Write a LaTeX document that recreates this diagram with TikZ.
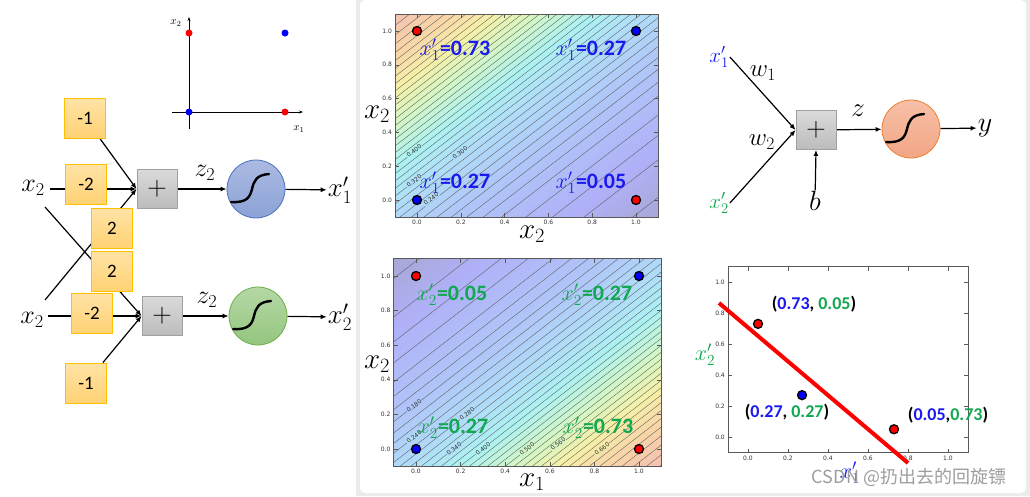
\documentclass[tikz,border=0pt]{standalone}
\usepackage{fix-cm}
\usepackage{fontspec}
\usetikzlibrary{arrows.meta}
\newfontfamily\cali{Carlito}
\newfontfamily\djv{DejaVu Sans}
\newfontfamily\cjk{Noto Sans CJK SC}
\definecolor{cblue}{HTML}{1A1AF0}
\definecolor{cgreen}{HTML}{10A850}
\definecolor{wbord}{HTML}{FFC000}
\definecolor{wtop}{HTML}{FFE3A6}
\definecolor{wbot}{HTML}{FFD274}
\definecolor{pbord}{HTML}{A0A0A0}
\definecolor{ptop}{HTML}{DADADA}
\definecolor{pbot}{HTML}{BCBCBC}
\definecolor{bltop}{HTML}{ABBAE2}
\definecolor{blbot}{HTML}{8CA2D6}
\definecolor{blbord}{HTML}{4A72C0}
\definecolor{grtop}{HTML}{B5D8A6}
\definecolor{grbot}{HTML}{94C67F}
\definecolor{grbord}{HTML}{70AD47}
\definecolor{ortop}{HTML}{F7C0A8}
\definecolor{orbot}{HTML}{F2A684}
\definecolor{orbord}{HTML}{ED7D31}
\definecolor{bggray}{HTML}{EBEBEB}
\definecolor{jA}{HTML}{A8A8D8}
\definecolor{jB}{HTML}{B0B0F8}
\definecolor{jC}{HTML}{B0C6F8}
\definecolor{jD}{HTML}{B0DCF8}
\definecolor{jE}{HTML}{ACF2F2}
\definecolor{jF}{HTML}{D4F6C4}
\definecolor{jG}{HTML}{F6F0A8}
\definecolor{jH}{HTML}{F8D6A8}
\definecolor{jI}{HTML}{F4C2B0}
\pgfdeclareverticalshading{jetmap}{100bp}{color(0bp)=(jA); color(26.7bp)=(jA); color(34.4bp)=(jB); color(45.1bp)=(jC); color(51bp)=(jD); color(55.8bp)=(jE); color(60.7bp)=(jF); color(64.6bp)=(jG); color(68.5bp)=(jH); color(73.3bp)=(jI); color(100bp)=(jI)}
\pgfdeclarelayer{back}
\pgfdeclarelayer{lines}
\pgfsetlayers{back,lines,main}
\tikzset{
  wbox/.style={draw=wbord, line width=0.9pt, top color=wtop, bottom color=wbot, minimum width=41pt, minimum height=40pt, inner sep=0pt, font=\cali\fontsize{19}{19}\selectfont},
  plusbox/.style={draw=pbord, line width=0.9pt, top color=ptop, bottom color=pbot, minimum width=40pt, minimum height=39pt, inner sep=0pt, font=\fontsize{27}{27}\selectfont},
  neuron/.style={circle, minimum size=58pt, inner sep=0pt, line width=0.8pt},
  conn/.style={line width=1.2pt, -{Latex[length=6pt,width=5pt]}},
  mlbl/.style={inner sep=1pt, font=\fontsize{#1}{#1}\selectfont},
  mlbl/.default=25,
  sigline/.style={line width=2.4pt, line cap=round},
  cline/.style={draw=black!65, line width=0.35pt},
  axframe/.style={draw=black!65, line width=0.8pt},
  tickmark/.style={draw=black!65, line width=0.6pt},
  ticklbl/.style={font=\djv\fontsize{6}{6}\selectfont, text=black!80, inner sep=1pt},
  pdot/.style={circle, fill=#1, draw=black, line width=1.3pt, minimum size=9pt, inner sep=0pt},
  sdot/.style={circle, fill=#1, minimum size=7pt, inner sep=0pt},
  clabel/.style={font=\djv\fontsize{6}{6}\selectfont, rotate=37.7, inner sep=0.4pt, fill=#1, text=black!80},
  vallbl/.style={inner sep=0pt, font=\fontsize{22}{22}\selectfont},
  coordlbl/.style={inner sep=0pt, font=\cali\bfseries\fontsize{18}{18}\selectfont},
}
\newcommand\myval[3]{\textcolor{#1}{$x'_{#2}$\cali\bfseries=#3}}
\newcommand\sigcurve[1]{\draw[sigline] ([shift={(-25,13)}]#1.center) .. controls ([shift={(-9,14)}]#1.center) and ([shift={(-6,8)}]#1.center) .. ([shift={(-4,0)}]#1.center) .. controls ([shift={(-2,-8)}]#1.center) and ([shift={(0,-14)}]#1.center) .. ([shift={(13,-15)}]#1.center);}
\begin{document}
\begin{tikzpicture}[x=1pt,y=-1pt]
\useasboundingbox (0,0) rectangle (1030,496);
\begin{pgfonlayer}{back}
  \fill[bggray] (0,0) rectangle (1030,496);
  \fill[white, rounded corners=6pt] (-10,-10) rectangle (356,506);
  \fill[white, rounded corners=5pt] (360,0) rectangle (1026,493);
\end{pgfonlayer}

% ---------------- small scatter (top left)
\coordinate (ya1) at (189,129);
\coordinate (ya2) at (189,17);
\coordinate (xa1) at (172,112);
\coordinate (xa2) at (303,112);
\draw[line width=1pt, -{Stealth[length=4pt,width=3pt]}] (ya1) -- (ya2);
\draw[line width=1pt, -{Stealth[length=4pt,width=3pt]}] (xa1) -- (xa2);
\node[mlbl=11] (sx2) at (176,23) {$x_2$};
\node[mlbl=11] (sx1) at (299,129) {$x_1$};
\node[sdot=red] (sd1) at (189,33) {};
\node[sdot=blue] (sd2) at (285,33) {};
\node[sdot=blue] (sd3) at (189,112) {};
\node[sdot=red] (sd4) at (285,112) {};

% ---------------- left network, row 1
\node[mlbl=26] (x2a) at (33,188) {$x_2$};
\node[wbox] (wm2a) at (86,184) {-2};
\node[wbox] (wm1a) at (85,118) {-1};
\node[wbox] (w2a) at (112,228) {2};
\node[wbox] (w2b) at (112,271) {2};
\node[plusbox] (pa) at (157,189) {$+$};
\node[neuron, draw=blbord, top color=bltop, bottom color=blbot] (ca) at (256,189) {};
\node[mlbl=26] (za) at (205,173) {$z_2$};
\node[mlbl=27] (oa) at (340,190) {$x'_1$};
\sigcurve{ca}
% row 2
\node[mlbl=26] (x2b) at (32,320) {$x_2$};
\node[wbox] (wm2b) at (92,313) {-2};
\node[wbox] (wm1b) at (86,383) {-1};
\node[plusbox] (pb) at (162,316) {$+$};
\node[neuron, draw=grbord, top color=grtop, bottom color=grbot] (cb) at (258,316) {};
\node[mlbl=26] (zb) at (207,300) {$z_2$};
\node[mlbl=27] (ob) at (340,317) {$x'_2$};
\sigcurve{cb}

\coordinate (x2aout) at (50,189);
\coordinate (xadown) at (45,207);
\coordinate (xbup) at (45,300);
\coordinate (x2bout) at (48,316);
\begin{pgfonlayer}{lines}
  \draw[conn] (x2aout) -- (pa.west);
  \draw[conn] (wm1a) -- (pa.west);
  \draw[conn] (xbup) -- (pa.west);
  \draw[conn] (xadown) -- (pb.west);
  \draw[conn] (x2bout) -- (pb.west);
  \draw[conn] (wm1b) -- (pb.west);
  \draw[conn] (pa) -- (ca);
  \draw[conn] (ca) -- (oa);
  \draw[conn] (pb) -- (cb);
  \draw[conn] (cb) -- (ob);
\end{pgfonlayer}

% ---------------- top contour plot
\begin{scope}
  \clip (395.1,14.1) rectangle (657.9,216.9);
  \begin{scope}[transform canvas={shift={(526.5,115.5)},rotate=37.66}]
    \shade[shading=jetmap] (-175,-172) rectangle (175,172);
  \end{scope}
\end{scope}
\begin{scope}[shift={(417,200)}, x=219pt, y=169pt]
  \begin{scope}
    \clip (-0.1,-0.1) rectangle (1.1,1.1);
    \foreach \k in {2,...,40}{
      \pgfmathsetmacro\s{(ln(0.02*\k/(1-0.02*\k))+1)/2}
      \draw[cline] (-0.3,{\s-0.3}) -- (1.3,{\s+1.3});
    }
  \end{scope}
  \draw[axframe] (-0.1,-0.1) rectangle (1.1,1.1);
  \foreach \t in {0,0.2,0.4,0.6,0.8,1}{
    \draw[tickmark] (\t,-0.1) -- ++(0pt,4pt);
    \draw[tickmark] (\t,1.1) -- ++(0pt,-4pt);
    \draw[tickmark] (-0.1,\t) -- ++(4pt,0pt);
    \draw[tickmark] (1.1,\t) -- ++(-4pt,0pt);
  }
  \foreach \t/\l [count=\i] in {0/0.0,0.2/0.2,0.4/0.4,0.6/0.6,0.8/0.8,1/1.0}{
    \node[ticklbl, anchor=north, yshift=-2pt] (atx\i) at (\t,-0.1) {\l};
    \node[ticklbl, anchor=east, xshift=-2pt] (aty\i) at (-0.1,\t) {\l};
  }
\end{scope}
\node[clabel=jE] (acl1) at (414,151) {0.400};
\node[clabel=jD] (acl2) at (460,153) {0.300};
\node[clabel=jD] (acl3) at (414,181) {0.320};
\node[clabel=jD] (acl4) at (431,199) {0.240};
\begin{scope}[shift={(417,200)}, x=219pt, y=169pt]
  \node[pdot=red] (ap1) at (0,1) {};
  \node[pdot=blue] (ap2) at (1,1) {};
  \node[pdot=blue] (ap3) at (0,0) {};
  \node[pdot=red] (ap4) at (1,0) {};
\end{scope}
\node[vallbl] (av1) at (455,50) {\myval{cblue}{1}{0.73}};
\node[vallbl] (av2) at (591,50) {\myval{cblue}{1}{0.27}};
\node[vallbl] (av3) at (455,183) {\myval{cblue}{1}{0.27}};
\node[vallbl] (av4) at (591,183) {\myval{cblue}{1}{0.05}};
\node[mlbl=29] (ayl) at (377,114) {$x_2$};
\node[mlbl=29] (axl) at (532,234) {$x_2$};

% ---------------- bottom contour plot
\begin{scope}
  \clip (393.7,258.7) rectangle (661.3,466.3);
  \begin{scope}[transform canvas={shift={(527.5,362.5)},rotate=217.8}]
    \shade[shading=jetmap] (-175,-172) rectangle (175,172);
  \end{scope}
\end{scope}
\begin{scope}[shift={(416,449)}, x=223pt, y=173pt]
  \begin{scope}
    \clip (-0.1,-0.1) rectangle (1.1,1.1);
    \foreach \k in {2,...,40}{
      \pgfmathsetmacro\s{(ln(0.02*\k/(1-0.02*\k))+1)/2}
      \draw[cline] (-0.3,{-0.3-\s}) -- (1.3,{1.3-\s});
    }
  \end{scope}
  \draw[axframe] (-0.1,-0.1) rectangle (1.1,1.1);
  \foreach \t in {0,0.2,0.4,0.6,0.8,1}{
    \draw[tickmark] (\t,-0.1) -- ++(0pt,4pt);
    \draw[tickmark] (\t,1.1) -- ++(0pt,-4pt);
    \draw[tickmark] (-0.1,\t) -- ++(4pt,0pt);
    \draw[tickmark] (1.1,\t) -- ++(-4pt,0pt);
  }
  \foreach \t/\l [count=\i] in {0/0.0,0.2/0.2,0.4/0.4,0.6/0.6,0.8/0.8,1/1.0}{
    \node[ticklbl, anchor=north, yshift=-2pt] (btx\i) at (\t,-0.1) {\l};
    \node[ticklbl, anchor=east, xshift=-2pt] (bty\i) at (-0.1,\t) {\l};
  }
\end{scope}
\node[clabel=jC] (bcl1) at (414,406) {0.180};
\node[clabel=jD] (bcl2) at (467,414) {0.280};
\node[clabel=jD] (bcl3) at (414,437) {0.240};
\node[clabel=jD] (bcl4) at (454,449) {0.340};
\node[clabel=jE] (bcl5) at (483,449) {0.400};
\node[clabel=jF] (bcl6) at (527,449) {0.500};
\node[clabel=jF] (bcl7) at (558,444) {0.560};
\node[clabel=jG] (bcl8) at (602,449) {0.660};
\begin{scope}[shift={(416,449)}, x=223pt, y=173pt]
  \node[pdot=red] (bp1) at (0,1) {};
  \node[pdot=blue] (bp2) at (1,1) {};
  \node[pdot=blue] (bp3) at (0,0) {};
  \node[pdot=red] (bp4) at (1,0) {};
\end{scope}
\node[vallbl] (bv1) at (452,295) {\myval{cgreen}{2}{0.05}};
\node[vallbl] (bv2) at (597,295) {\myval{cgreen}{2}{0.27}};
\node[vallbl] (bv3) at (453,428) {\myval{cgreen}{2}{0.27}};
\node[vallbl] (bv4) at (598,428) {\myval{cgreen}{2}{0.73}};
\node[mlbl=29] (byl) at (377,364) {$x_2$};
\node[mlbl=29] (bxl) at (532,482) {$x_1$};

% ---------------- right network
\node[mlbl=21, text=cblue] (xp1) at (719,57) {$x'_1$};
\node[mlbl=21, text=cgreen] (xp2) at (719,203) {$x'_2$};
\node[plusbox] (pc) at (816,130) {$+$};
\node[neuron, draw=orbord, top color=ortop, bottom color=orbot] (cc) at (911,129) {};
\sigcurve{cc}
\node[mlbl=25] (w1l) at (763,73) {$w_1$};
\node[mlbl=25] (w2l) at (762,142) {$w_2$};
\node[mlbl=28] (bl) at (815,201) {$b$};
\node[mlbl=27] (zl) at (858,111) {$z$};
\node[mlbl=28] (yl) at (985,128) {$y$};
\begin{pgfonlayer}{lines}
  \draw[conn] (xp1.east) -- (pc.west);
  \draw[conn] (xp2.east) -- (pc.west);
  \draw[conn] (bl) -- (pc.south);
  \draw[conn] (pc) -- (cc);
  \draw[conn] (cc) -- (yl);
\end{pgfonlayer}

% ---------------- scatter of hidden outputs
\begin{scope}[shift={(748,437)}, x=200pt, y=155pt]
  \draw[axframe] (-0.1,-0.1) rectangle (1.1,1.1);
  \foreach \t in {0,0.2,0.4,0.6,0.8,1}{
    \draw[tickmark] (\t,-0.1) -- ++(0pt,4pt);
    \draw[tickmark] (\t,1.1) -- ++(0pt,-4pt);
    \draw[tickmark] (-0.1,\t) -- ++(4pt,0pt);
    \draw[tickmark] (1.1,\t) -- ++(-4pt,0pt);
  }
  \foreach \t/\l [count=\i] in {0/0.0,0.2/0.2,0.4/0.4,0.6/0.6,0.8/0.8,1/1.0}{
    \node[ticklbl, anchor=north, yshift=-2pt] (ctx\i) at (\t,-0.1) {\l};
    \node[ticklbl, anchor=east, xshift=-2pt] (cty\i) at (-0.1,\t) {\l};
  }
  \node[pdot=red] (cp1) at (0.05,0.73) {};
  \node[pdot=blue] (cp2) at (0.27,0.27) {};
  \node[pdot=red] (cp3) at (0.73,0.05) {};
\end{scope}
\coordinate (rl1) at (719,303);
\coordinate (rl2) at (908,463);
\draw[red, line width=4pt] (rl1) -- (rl2);
\node[coordlbl] (cl1) at (814,304) {(\textcolor{cblue}{0.73}, \textcolor{cgreen}{0.05})};
\node[coordlbl] (cl2) at (787,412) {(\textcolor{cblue}{0.27}, \textcolor{cgreen}{0.27})};
\node[coordlbl] (cl3) at (948,415) {(\textcolor{cblue}{0.05},\textcolor{cgreen}{0.73})};
\node[mlbl=22, text=cgreen] (cyl) at (705,355) {$x'_2$};
\node[mlbl=22, text=cblue] (cxl) at (850,473) {$x'_1$};
\node[inner sep=0pt, text=black!38, font=\cjk\fontsize{18}{18}\selectfont] (wm) at (909,477) {CSDN @扔出去的回旋镖};
\end{tikzpicture}
\end{document}
